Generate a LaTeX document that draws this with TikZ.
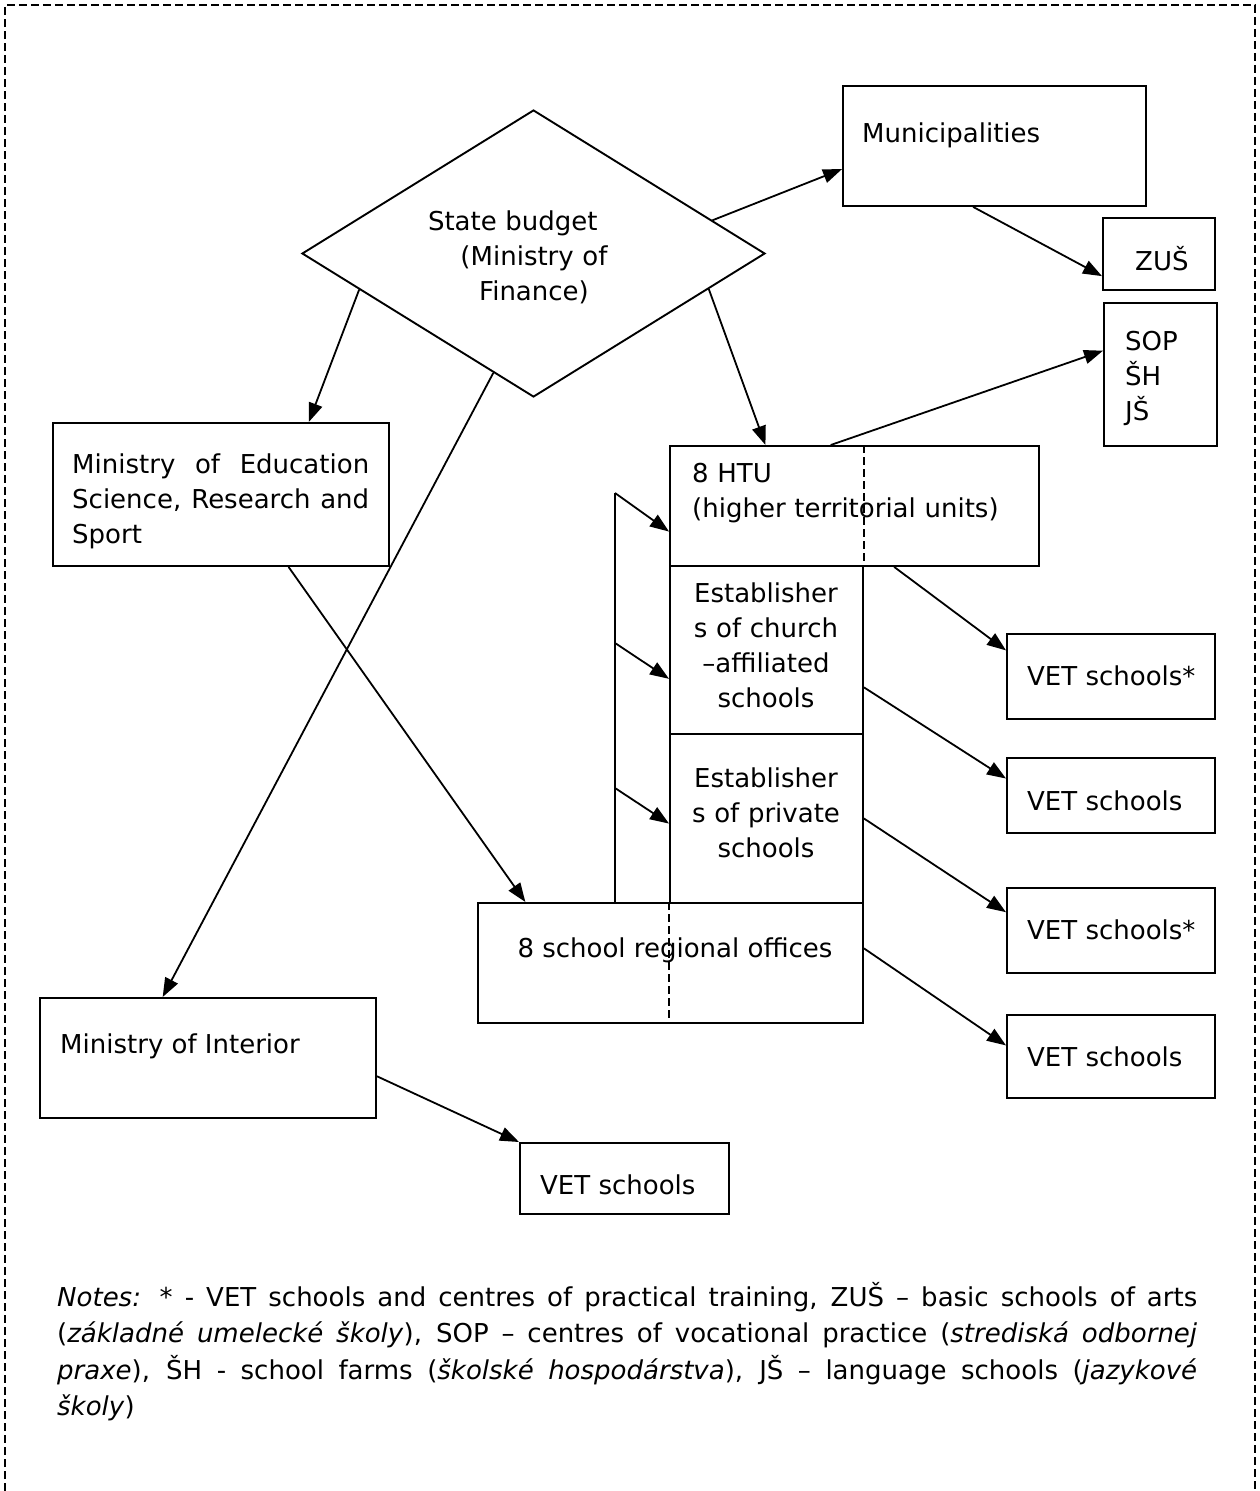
\documentclass[tikz,border=0pt]{standalone}
\usepackage{fontspec}
\setmainfont{DejaVu Sans}
\usetikzlibrary{arrows.meta,shapes.geometric,calc}
\newcommand\mybox[5]{\node[box, minimum width={#4-#2}, minimum height={#5-#3}] (#1) at (#2,#3) {};}
\begin{document}
\begin{tikzpicture}[x=1pt,y=-1pt,
  box/.style={draw, line width=1.9pt, inner sep=0pt, anchor=north west},
  lbl/.style={inner sep=0pt, anchor=base west, font=\fontsize{26}{35}\selectfont},
  clbl/.style={inner sep=0pt, anchor=base, font=\fontsize{26}{35}\selectfont},
  conn/.style={line width=1.8pt, -{Triangle[length=19pt,width=14pt]}},
  plain/.style={line width=1.8pt},
  dline/.style={line width=1.6pt, dash pattern=on 8pt off 4pt},
]
\useasboundingbox (0,0) rectangle (1260,1491);
% outer frame
\draw[dline] (5,1491) -- (5,5) -- (1255,5) -- (1255,1491);

% diamond
\node[draw, diamond, line width=1.9pt, inner sep=0pt, aspect=1.613,
      minimum width=463, minimum height=287] (sb) at (533.5,253.5) {};
\node[clbl, text width=250, align=center] (sbt) at (534,230)
  {\makebox[212pt][l]{State budget}\\(Ministry of\\Finance)};

% boxes
\mybox{mun}{842}{85}{1145}{205}
\mybox{zus}{1102}{217}{1214}{289}
\mybox{sop}{1103}{302}{1216}{445}
\mybox{edu}{52}{422}{388}{565}
\mybox{htu}{669}{445}{1038}{565}
\mybox{church}{669}{565}{862}{733}
\mybox{priv}{669}{733}{862}{902}
\mybox{reg}{477}{902}{862}{1022}
\mybox{int}{39}{997}{375}{1117}
\mybox{vetA}{1006}{633}{1214}{718}
\mybox{vetB}{1006}{757}{1214}{832}
\mybox{vetC}{1006}{887}{1214}{972}
\mybox{vetD}{1006}{1014}{1214}{1097}
\mybox{vetE}{519}{1142}{728}{1213}

% dashed dividers
\draw[dline] (church.north east |- htu.north) -- (church.north east |- htu.south);
\draw[dline] (priv.south west |- reg.north) -- (priv.south west |- reg.south);

% texts
\node[lbl] (munt) at (862,142) {Municipalities};
\node[lbl] (zust) at (1135,270) {ZUŠ};
\node[lbl, text width=80, align=left] (sopt) at (1125,350) {SOP\\ŠH\\JŠ};
\node[lbl, text width=297, align=justify] (edut) at (72,473)
  {Ministry of Education\linebreak Science, Research and\linebreak Sport};
\node[lbl, text width=340, align=left] (htut) at (692,482) {8 HTU\\(higher territorial units)};
\node[clbl, text width=190, align=center] (churcht) at (766,602) {Establisher\\s of church\\–affiliated\\schools};
\node[clbl, text width=190, align=center] (privt) at (766,787) {Establisher\\s of private\\schools};
\node[clbl] (regt) at (675,957) {8 school regional offices};
\node[lbl] (intt) at (60,1053) {Ministry of Interior};
\node[lbl] (vetAt) at (1027,685) {VET schools*};
\node[lbl] (vetBt) at (1027,810) {VET schools};
\node[lbl] (vetCt) at (1027,939) {VET schools*};
\node[lbl] (vetDt) at (1027,1066) {VET schools};
\node[lbl] (vetEt) at (540,1194) {VET schools};

% connectors
\draw[conn] ($(sb.north)!0.77!(sb.east)$) -- ($(mun.north west)!0.69!(mun.south west)$);
\draw[conn] ($(mun.south west)!0.43!(mun.south east)$) -- ($(zus.north west)!0.8!(zus.south west)$);
\draw[conn] ($(sb.west)!0.25!(sb.south)$) -- ($(edu.north west)!0.76!(edu.north east)$);
\draw[conn] ($(sb.west)!0.827!(sb.south)$) -- ($(int.north west)!0.366!(int.north east)$);
\draw[conn] ($(sb.east)!0.246!(sb.south)$) -- ($(htu.north west)!0.26!(htu.north east)$);
\draw[conn] ($(htu.north west)!0.436!(htu.north east)$) -- ($(sop.north west)!0.336!(sop.south west)$);
\draw[conn] ($(edu.south west)!0.70!(edu.south east)$) -- ($(reg.north west)!0.125!(reg.north east)$);

\coordinate (br1) at (615,493);
\coordinate (br2) at (615,643);
\coordinate (br3) at (615,788);
\draw[plain] (br1) -- (br1 |- reg.north);
\draw[conn] (br1) -- ($(htu.north west)!0.71!(htu.south west)$);
\draw[conn] (br2) -- ($(church.north west)!0.67!(church.south west)$);
\draw[conn] (br3) -- ($(priv.north west)!0.53!(priv.south west)$);

\draw[conn] ($(htu.south west)!0.607!(htu.south east)$) -- ($(vetA.north west)!0.2!(vetA.south west)$);
\draw[conn] ($(church.north east)!0.72!(church.south east)$) -- ($(vetB.north west)!0.28!(vetB.south west)$);
\draw[conn] ($(priv.north east)!0.50!(priv.south east)$) -- ($(vetC.north west)!0.29!(vetC.south west)$);
\draw[conn] ($(reg.north east)!0.38!(reg.south east)$) -- ($(vetD.north west)!0.37!(vetD.south west)$);
\draw[conn] ($(int.north east)!0.65!(int.south east)$) -- (vetE.north west);

% notes
\node[anchor=base west, inner sep=0pt, text width=1140, align=justify,
      font=\fontsize{26}{36.5}\selectfont] (notes) at (57,1306)
  {\textit{Notes:} * - VET schools and centres of practical training, ZUŠ – basic schools of arts\linebreak
   (\textit{základné umelecké školy}), SOP – centres of vocational practice (\textit{strediská odbornej}\linebreak
   \textit{praxe}), ŠH - school farms (\textit{školské hospodárstva}), JŠ – language schools (\textit{jazykové}\linebreak
   \textit{školy})};
\end{tikzpicture}
\end{document}
